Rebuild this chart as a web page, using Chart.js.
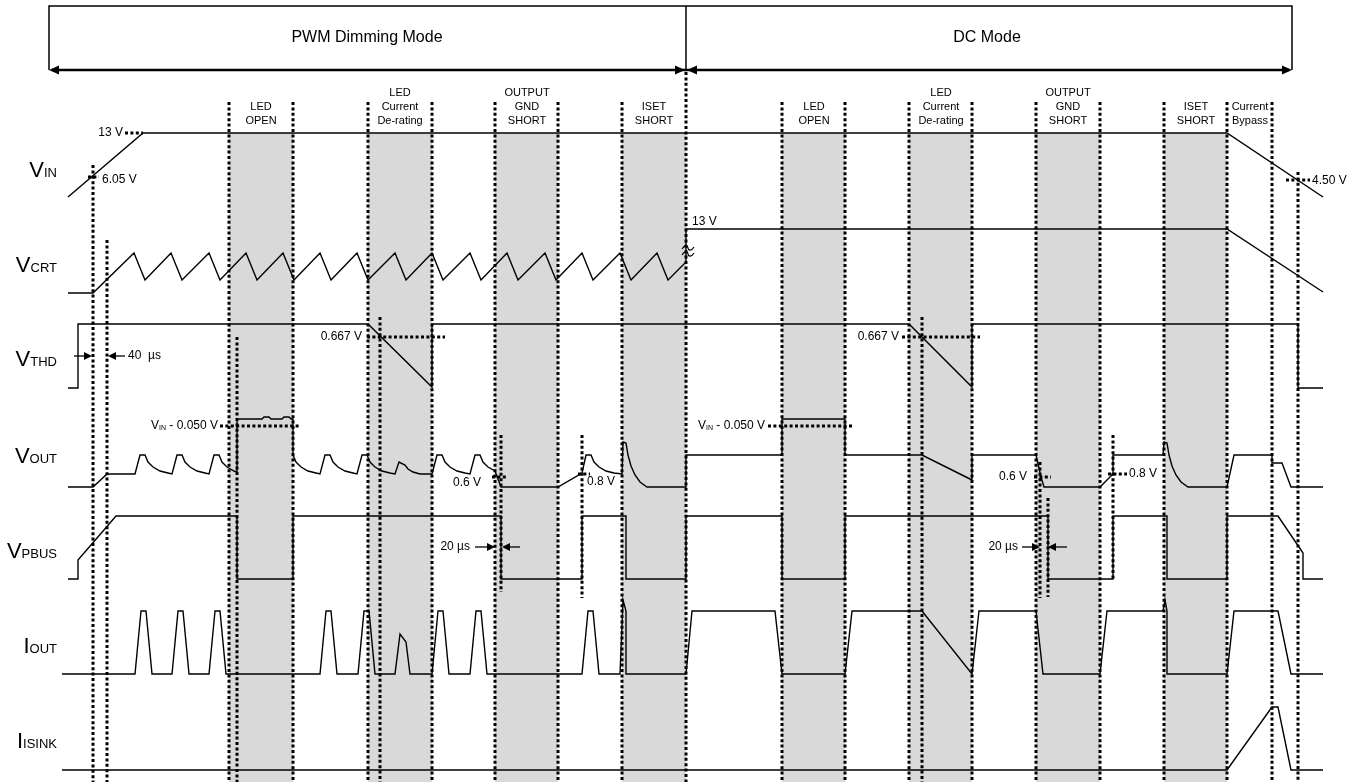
<!DOCTYPE html>
<html><head><meta charset="utf-8">
<script src="https://cdn.jsdelivr.net/npm/chart.js@4.4.1/dist/chart.umd.min.js"></script>
<style>html,body{margin:0;padding:0;background:#fff;overflow:hidden}#wrap{width:1365px;height:782px}</style>
</head><body><div id="wrap"><canvas id="c" width="1365" height="782"></canvas></div>
<script>
// ---- diagram extents (time axis 0..1365, level axis 0..782 top-down) ----
const X_MAX = 1365, Y_MAX = 782;

// ---- waveforms: [time, level] ----
const vinWave = [[68,197],[143,133],[1227,133],[1323,197]];
const vcrtWave = [[68,293],[93,293],[134,253],[145,280],[171,253],[182,280],[209,253],[220,280],[246,253],[257,280],[283,253],[294,280],[320,253],[331,280],[357,253],[368,280],[395,253],[406,280],[432,253],[443,280],[470,253],[481,280],[507,253],[518,280],[545,253],[556,280],[582,253],[593,280],[620,253],[631,280],[657,253],[668,280],[686,262],[686,229],[1227,229],[1323,292]];
const vthdWave = [[68,388],[78,388],[78,324],[368,324],[432,387],[432,324],[909,324],[972,387],[972,324],[1298,324],[1298,388],[1323,388]];
const voutWave = [[68,487],[93,487],[107,474],[135,474],
 [140,455],[145,455],[148,462],[153,467],[160,471],[168,473],[172,474],
 [177,455],[182,455],[185,462],[190,467],[197,471],[205,473],[209,474],
 [214,455],[219,455],[222,462],[227,467],[234,471],[237,472],
 [237,419],[262,419],[264,417],[269,417],[271,419],[282,419],[284,417],[289,417],[291,419],[293,419],
 [293,455],[296,462],[301,467],[308,471],[316,473],[320,474],
 [325,455],[330,455],[333,462],[338,467],[345,471],[353,473],[357,474],
 [362,455],[367,455],[370,462],[375,467],[382,471],[390,473],[395,474],
 [399,462],[405,465],[408,469],[413,472],[420,474],[432,474],
 [437,455],[442,455],[445,462],[450,467],[457,471],[465,473],[470,474],
 [475,455],[480,455],[483,462],[488,467],[495,471],[501,487],
 [558,487],[582,473],
 [586,455],[591,455],[594,462],[599,467],[606,471],[614,473],[622,474],
 [623,442],[626,443],[628,455],[631,466],[635,475],[640,482],[647,487],
 [686,487],[686,455],[782,455],[782,419],[845,419],[845,455],[922,455],[972,480],[972,455],
 [1036,455],[1041,477],[1044,487],[1100,487],[1113,474],[1113,455],[1163,455],
 [1164,442],[1167,443],[1169,455],[1172,466],[1176,475],[1181,482],[1188,487],
 [1227,487],[1234,455],[1272,455],[1272,463],[1282,463],[1291,487],[1323,487]];
const vpbusWave = [[68,579],[78,579],[78,560],[116,516],[237,516],[237,579],[293,579],[293,516],[501,516],[501,579],[582,579],[582,516],[626,516],[626,579],[686,579],[686,516],[782,516],[782,579],[845,579],[845,516],[1048,516],[1048,579],[1113,579],[1113,516],[1167,516],[1167,579],[1227,579],[1227,516],[1278,516],[1303,553],[1303,579],[1323,579]];
const ioutWave = [[62,674],
 [135,674],[141,611],[146,611],[152,674],
 [172,674],[178,611],[183,611],[189,674],
 [209,674],[215,611],[220,611],[226,674],
 [320,674],[326,611],[331,611],[337,674],
 [358,674],[364,611],[369,611],[375,674],
 [395,674],[400,634],[406,642],[410,674],
 [432,674],[438,611],[443,611],[449,674],
 [470,674],[476,611],[481,611],[487,674],
 [582,674],[588,611],[593,611],[599,674],
 [620,674],[623,600],[626,611],[626,674],
 [686,674],[692,611],[775,611],[782,674],[845,674],[852,611],[922,611],[972,674],[979,611],[1036,611],[1043,674],[1100,674],[1107,611],[1163,611],[1165,600],[1167,611],[1167,674],[1227,674],[1234,611],[1278,611],[1291,674],[1323,674]];
const isinkWave = [[62,770],[1227,770],[1272,707],[1278,707],[1291,770],[1323,770]];

// ---- fault windows (shaded) [start, end] ----
const faultWindows = [[229,293],[368,432],[495,558],[622,686],[782,845],[909,972],[1036,1100],[1164,1227]];
const shadeTopLevel = 133;

// ---- event markers (vertical dotted): [time, fromLevel, toLevel] ----
const eventMarkers = [[93,165,782],[107,240,782],[229,102,782],[237,337,782],[293,102,782],[368,102,782],[380,317,782],[432,102,782],[495,102,782],[501,435,592],[558,102,782],[582,435,598],[622,102,782],[686,72,782],[782,102,782],[845,102,782],[909,102,782],[922,317,782],[972,102,782],[1036,102,782],[1040,462,598],[1048,498,597],[1100,102,782],[1113,435,579],[1164,102,782],[1227,102,782],[1272,102,782],[1298,172,782]];
// ---- level markers (horizontal dotted): [fromTime, toTime, level] ----
const levelMarkers = [[125,143,133],[88,99,177],[1286,1310,180],[367,445,337],[902,980,337],[220,299,426],[768,853,426],[492,508,477],[1034,1051,477],[578,590,474],[1108,1127,474]];

// ---- text ----
const signalNames = [['V','IN',169],['V','CRT',264],['V','THD',358],['V','OUT',455],['V','PBUS',550],['I','OUT',645],['I','ISINK',740]];
const modeTitles = [['PWM Dimming Mode',367],['DC Mode',987]];
const windowTitles = [[261,['LED','OPEN']],[400,['LED','Current','De-rating']],[527,['OUTPUT','GND','SHORT']],[654,['ISET','SHORT']],[814,['LED','OPEN']],[941,['LED','Current','De-rating']],[1068,['OUTPUT','GND','SHORT']],[1196,['ISET','SHORT']],[1250,['Current','Bypass']]];
const notes = [['13 V',123,133,'right'],['6.05 V',102,180,'left'],['4.50 V',1312,181,'left'],['13 V',692,222,'left'],['0.667 V',362,337,'right'],['0.667 V',899,337,'right'],['40  µs',128,356,'left'],['0.6 V',481,483,'right'],['0.6 V',1027,477,'right'],['0.8 V',587,482,'left'],['0.8 V',1129,474,'left'],['20 µs',470,547,'right'],['20 µs',1018,547,'right']];
const vinNotes = [[218,426],[765,426]];
const arrows = [[74,92,356],[125,108,356],[475,495,547],[520,502,547],[1022,1040,547],[1067,1048,547]];

const FONT = '"Liberation Sans", Arial, Helvetica, sans-serif';
const toXY = a => a.map(p => ({x:p[0], y:p[1]}));

const datasets = [];
const wave = (d) => ({data: toXY(d), borderColor:'#000', borderWidth:1.4, pointRadius:0, fill:false, tension:0, order:1, clip:false, borderJoinStyle:'miter'});
[vinWave,vcrtWave,vthdWave,voutWave,vpbusWave,ioutWave,isinkWave].forEach(w => datasets.push(wave(w)));
eventMarkers.forEach(m => datasets.push({data: toXY([[m[0],m[1]],[m[0],m[2]]]), borderColor:'#000', borderWidth:3, borderDash:[3,2.4], pointRadius:0, fill:false, order:5, clip:false}));
levelMarkers.forEach(m => datasets.push({data: toXY([[m[0],m[2]],[m[1],m[2]]]), borderColor:'#000', borderWidth:3, borderDash:[3,2.4], pointRadius:0, fill:false, order:5, clip:false}));
faultWindows.forEach(w => datasets.push({data: toXY([[w[0],shadeTopLevel],[w[1],shadeTopLevel]]), borderWidth:0, borderColor:'rgba(0,0,0,0)', backgroundColor:'#d9d9d9', pointRadius:0, fill:{value:Y_MAX}, order:10}));

function arrowHead(ctx, tx, ty, dir, len, hw) {
  ctx.beginPath();
  ctx.moveTo(tx, ty);
  ctx.lineTo(tx - dir*len, ty - hw);
  ctx.lineTo(tx - dir*len, ty + hw);
  ctx.closePath();
  ctx.fill();
}

const annot = {
  id: 'annot',
  afterDatasetsDraw(chart) {
    const {ctx} = chart, sx = chart.scales.x, sy = chart.scales.y;
    const X = v => sx.getPixelForValue(v), Y = v => sy.getPixelForValue(v);
    ctx.save();
    ctx.strokeStyle = '#000'; ctx.fillStyle = '#000';
    // header box
    ctx.lineWidth = 1.5;
    ctx.beginPath();
    ctx.moveTo(X(49), Y(70)); ctx.lineTo(X(49), Y(6)); ctx.lineTo(X(1292), Y(6)); ctx.lineTo(X(1292), Y(70));
    ctx.moveTo(X(686), Y(6)); ctx.lineTo(X(686), Y(70));
    ctx.stroke();
    ctx.lineWidth = 2.5;
    ctx.beginPath(); ctx.moveTo(X(52), Y(70)); ctx.lineTo(X(1289), Y(70)); ctx.stroke();
    arrowHead(ctx, X(49), Y(70), -1, 10, 4.5);
    arrowHead(ctx, X(685), Y(70), 1, 10, 4.5);
    arrowHead(ctx, X(687), Y(70), -1, 10, 4.5);
    arrowHead(ctx, X(1292), Y(70), 1, 10, 4.5);
    // small dimension arrows
    ctx.lineWidth = 1.3;
    arrows.forEach(a => {
      const dir = a[1] > a[0] ? 1 : -1;
      ctx.beginPath(); ctx.moveTo(X(a[0]), Y(a[2])); ctx.lineTo(X(a[1]) - dir*4, Y(a[2])); ctx.stroke();
      arrowHead(ctx, X(a[1]), Y(a[2]), dir, 8, 4);
    });
    ctx.textBaseline = 'middle';
    // mode titles
    ctx.font = '16px ' + FONT; ctx.textAlign = 'center';
    modeTitles.forEach(t => ctx.fillText(t[0], X(t[1]), Y(38)));
    // window titles
    ctx.font = '11px ' + FONT;
    windowTitles.forEach(w => {
      const n = w[1].length;
      w[1].forEach((s, i) => ctx.fillText(s, X(w[0]), Y(121 - (n-1-i)*14)));
    });
    // notes
    ctx.font = '12px ' + FONT;
    notes.forEach(n => { ctx.textAlign = n[3]; ctx.fillText(n[0], X(n[1]), Y(n[2])); });
    // VIN - 0.050 V
    vinNotes.forEach(v => {
      ctx.font = '12px ' + FONT;
      const rest = ' - 0.050 V', wRest = ctx.measureText(rest).width, wV = ctx.measureText('V').width;
      ctx.font = '7px ' + FONT; const wSub = ctx.measureText('IN').width;
      let xr = X(v[0]);
      ctx.textAlign = 'left';
      ctx.font = '12px ' + FONT;
      ctx.fillText(rest, xr - wRest, Y(v[1]));
      ctx.fillText('V', xr - wRest - wSub - wV, Y(v[1]));
      ctx.font = '7px ' + FONT;
      ctx.fillText('IN', xr - wRest - wSub, Y(v[1]) + 2);
    });
    // signal names
    ctx.textBaseline = 'alphabetic'; ctx.textAlign = 'left';
    signalNames.forEach(s => {
      ctx.font = '22px ' + FONT; const w1 = ctx.measureText(s[0]).width;
      ctx.font = '13px ' + FONT; const w2 = ctx.measureText(s[1]).width;
      const right = X(57), base = Y(s[2]) + 8;
      ctx.font = '22px ' + FONT; ctx.fillText(s[0], right - w1 - w2, base);
      ctx.font = '13px ' + FONT; ctx.fillText(s[1], right - w2, base);
    });
    // break mark on VCRT at mode change (two small tildes)
    ctx.lineWidth = 1.2;
    [248, 254].forEach(yy => {
      const cx = X(688), cy = Y(yy);
      ctx.beginPath();
      ctx.moveTo(cx - 6, cy + 1);
      ctx.bezierCurveTo(cx - 3, cy - 4, cx, cy - 2, cx, cy);
      ctx.bezierCurveTo(cx, cy + 2, cx + 3, cy + 4, cx + 6, cy - 1);
      ctx.stroke();
    });
    ctx.restore();
  }
};

new Chart(document.getElementById('c'), {
  type: 'line',
  data: {datasets},
  options: {
    responsive: false, animation: false, events: [],
    layout: {padding: 0},
    plugins: {legend: {display:false}, tooltip: {enabled:false}, title:{display:false}},
    scales: {
      x: {type:'linear', min:0, max:X_MAX, display:false},
      y: {type:'linear', min:0, max:Y_MAX, reverse:true, display:false}
    },
    elements: {point: {radius:0}}
  },
  plugins: [annot]
});
</script></body></html>
